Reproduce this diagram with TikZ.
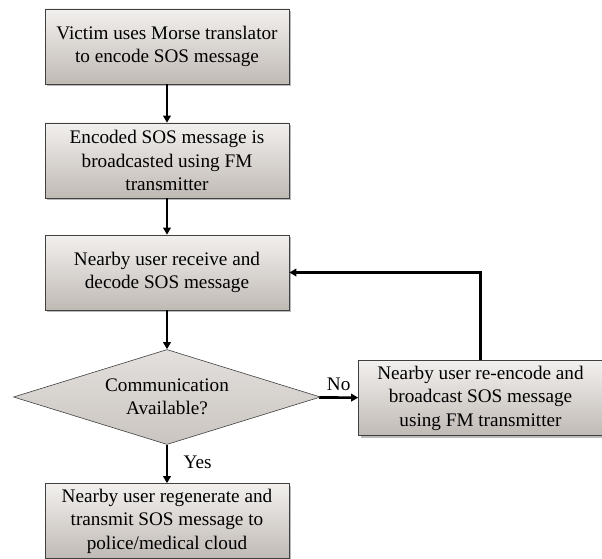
\documentclass[tikz,border=0pt]{standalone}
\usepackage{fontspec}
\setmainfont{Liberation Serif}
\usetikzlibrary{arrows.meta, positioning, shapes.geometric, shadows}
\definecolor{boxtop}{RGB}{242,240,238}
\definecolor{boxbot}{RGB}{192,186,181}
\tikzset{
  % process boxes and decision
  stepbox/.style={draw=black!75, line width=0.6pt, rectangle,
                  minimum width=244pt, minimum height=75pt, inner sep=2pt,
                  align=center, top color=boxtop, bottom color=boxbot,
                  drop shadow={shadow xshift=2pt, shadow yshift=-2pt,
                               opacity=0.45, fill=black!60},
                  font=\fontsize{19.2}{23.5}\selectfont},
  decide/.style ={draw=black!75, line width=0.6pt, diamond, aspect=3.2,
                  minimum width=307pt, minimum height=95pt, inner sep=0pt,
                  align=center, top color=boxtop!70!boxbot, bottom color=boxbot!80!boxtop,
                  font=\fontsize{19.2}{23.5}\selectfont},
  flow/.style   ={-{Triangle[length=7pt, width=7.5pt]}, line width=2.6pt, black},
  elbl/.style   ={font=\fontsize{19.2}{20}\selectfont},
}
\begin{document}
\begin{tikzpicture}[x=1pt, y=-1pt]
  \useasboundingbox (0,0) rectangle (602,559);
  \node[stepbox] (encode) at (167,46.5)
    {Victim uses Morse translator\\to encode SOS message};
  \node[stepbox] (bcast) at (167,160.5)
    {Encoded SOS message is\\broadcasted using FM\\transmitter};
  \node[stepbox] (recv) at (167,272.5)
    {Nearby user receive and\\decode SOS message};
  \node[decide] (avail) at (167,397) {Communication\\Available?};
  \node[stepbox] (rebcast) at (480.5,398)
    {Nearby user re-encode and\\broadcast SOS message\\using FM transmitter};
  \node[stepbox] (cloud) at (167,521)
    {Nearby user regenerate and\\transmit SOS message to\\police/medical cloud};
  % connectors
  \draw[flow] (encode) -- (bcast);
  \draw[flow] (bcast) -- (recv);
  \draw[flow] (recv) -- (avail);
  \draw[flow] (avail) -- (cloud) node[elbl, pos=0.45, right=12pt] {Yes};
  \draw[flow] (avail) -- (rebcast) node[elbl, midway, above=2pt] {No};
  \draw[flow] (rebcast.north) |- (recv.east);
\end{tikzpicture}
\end{document}
